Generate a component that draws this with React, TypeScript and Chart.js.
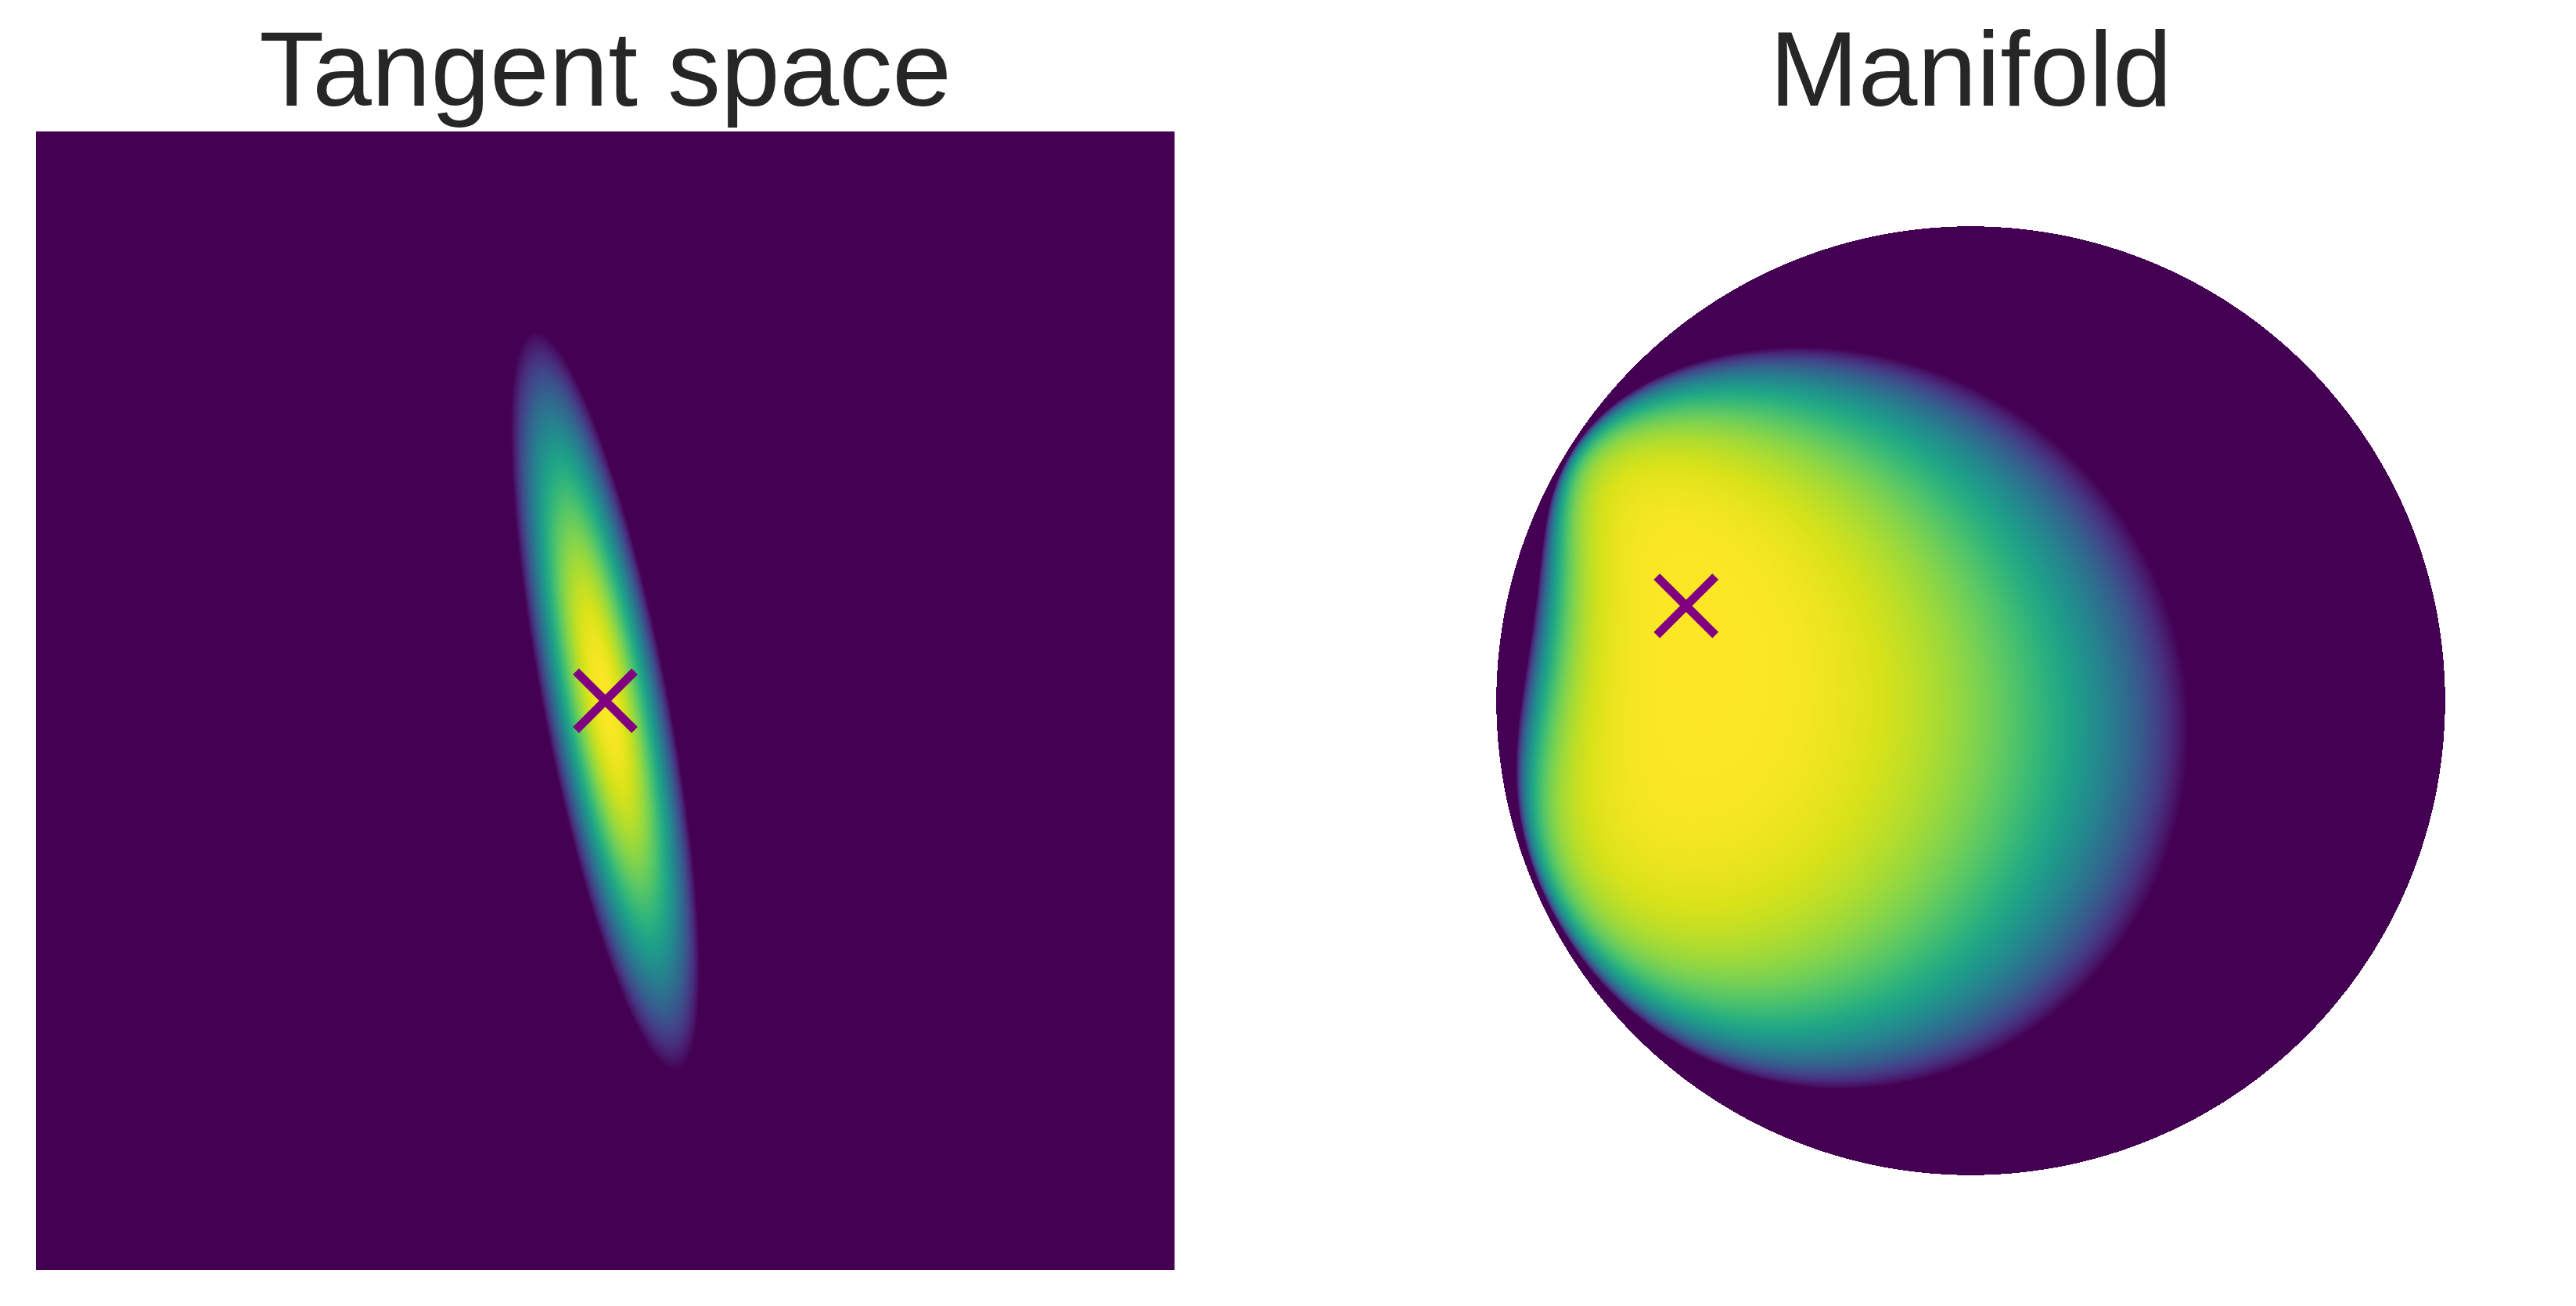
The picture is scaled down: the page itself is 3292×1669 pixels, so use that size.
import React, { useEffect, useRef } from 'react';
import { Chart, registerables } from 'chart.js';

Chart.register(...registerables);

// ---------- data ----------
const PANEL_TITLES = ['Tangent space', 'Manifold'];

// Tangent space panel (axis range, mean, visible-contour semi-axes, tilt of major axis from vertical)
const TANGENT_RANGE = [-3, 3];
const TANGENT_MEAN = [0, 0];
const TANGENT_SEMI_AXES = [1.98, 0.33];
const TANGENT_TILT_DEG = [11];
const TANGENT_GAMMA = [1.0];

// Manifold panel (Poincaré disk): axis range, mean on the disk, contour centre in log-map coords,
// contour semi-axes in log-map coords, tilt of major axis from vertical
const MANIFOLD_RANGE = [-1.2, 1.2];
const MANIFOLD_MEAN = [-0.6, 0.2];
const MANIFOLD_OFFSET = [0.08, -0.17];
const MANIFOLD_SEMI_AXES = [2.3, 1.05];
const MANIFOLD_TILT_DEG = [15];
const MANIFOLD_GAMMA = [1.5];

// ---------- style ----------
const VIRIDIS: number[][] = [
  [68, 1, 84], [72, 24, 106], [71, 45, 123], [66, 64, 134], [59, 82, 139], [51, 99, 141],
  [44, 114, 142], [38, 130, 142], [33, 145, 140], [31, 160, 136], [40, 174, 128], [63, 188, 115],
  [94, 201, 98], [132, 212, 75], [173, 220, 48], [216, 226, 25], [253, 231, 37],
];
const MARKER_COLOR = '#800080';
const TITLE_COLOR = '#262626';
const FONT = '"Liberation Sans", Arial, Helvetica, sans-serif';

function viridis(t: number): number[] {
  const c = Math.max(0, Math.min(1, t)) * (VIRIDIS.length - 1);
  const i = Math.min(VIRIDIS.length - 2, Math.floor(c));
  const f = c - i;
  const a = VIRIDIS[i], b = VIRIDIS[i + 1];
  return [a[0] + (b[0] - a[0]) * f, a[1] + (b[1] - a[1]) * f, a[2] + (b[2] - a[2]) * f];
}

function ellipseLevel(dx: number, dy: number, semi: number[], tiltDeg: number, gamma: number): number {
  const th = (tiltDeg * Math.PI) / 180;
  const u1x = -Math.sin(th), u1y = Math.cos(th); // major axis
  const u2x = Math.cos(th), u2y = Math.sin(th); // minor axis
  const p1 = (dx * u1x + dy * u1y) / semi[0];
  const p2 = (dx * u2x + dy * u2y) / semi[1];
  const q = p1 * p1 + p2 * p2;
  if (q >= 1) return 0;
  return 1 - Math.pow(q, gamma);
}

function tangentField(x: number, y: number): number {
  return ellipseLevel(x - TANGENT_MEAN[0], y - TANGENT_MEAN[1], TANGENT_SEMI_AXES, TANGENT_TILT_DEG[0], TANGENT_GAMMA[0]);
}

function manifoldField(x: number, y: number): number {
  const r2 = x * x + y * y;
  if (r2 >= 1) return -1;
  // Möbius addition (-mu) ⊕ z, then logarithmic map at mu
  const ax = -MANIFOLD_MEAN[0], ay = -MANIFOLD_MEAN[1];
  const ab = ax * x + ay * y;
  const a2 = ax * ax + ay * ay;
  const den = 1 + 2 * ab + a2 * r2;
  const wx = ((1 + 2 * ab + r2) * ax + (1 - a2) * x) / den;
  const wy = ((1 + 2 * ab + r2) * ay + (1 - a2) * y) / den;
  const wn = Math.sqrt(wx * wx + wy * wy);
  if (wn >= 0.999999) return 0;
  const s = wn < 1e-12 ? 1 : (0.5 * Math.log((1 + wn) / (1 - wn))) / wn;
  const vx = wx * s, vy = wy * s;
  return ellipseLevel(vx - MANIFOLD_OFFSET[0], vy - MANIFOLD_OFFSET[1], MANIFOLD_SEMI_AXES, MANIFOLD_TILT_DEG[0], MANIFOLD_GAMMA[0]);
}

function densityPlugin(field: (x: number, y: number) => number) {
  return {
    id: 'densityImage',
    beforeDatasetsDraw(chart: any) {
      const { ctx, chartArea, scales } = chart;
      const L = Math.round(chartArea.left), T = Math.round(chartArea.top);
      const W = Math.round(chartArea.right) - L, H = Math.round(chartArea.bottom) - T;
      const img = ctx.createImageData(W, H);
      const xs = new Float64Array(W), ys = new Float64Array(H);
      for (let i = 0; i < W; i++) xs[i] = scales.x.getValueForPixel(L + i + 0.5);
      for (let j = 0; j < H; j++) ys[j] = scales.y.getValueForPixel(T + j + 0.5);
      const d = img.data;
      for (let j = 0; j < H; j++) {
        for (let i = 0; i < W; i++) {
          const t = field(xs[i], ys[j]);
          if (t < 0) continue;
          const c = viridis(t);
          const k = (j * W + i) * 4;
          d[k] = c[0]; d[k + 1] = c[1]; d[k + 2] = c[2]; d[k + 3] = 255;
        }
      }
      ctx.putImageData(img, L, T);
    },
  };
}

function makeConfig(title: string, range: number[], mean: number[], field: (x: number, y: number) => number): any {
  return {
    type: 'scatter',
    data: {
      datasets: [
        {
          data: [{ x: mean[0], y: mean[1] }],
          pointStyle: 'crossRot',
          pointRadius: 53,
          pointHoverRadius: 53,
          pointBorderWidth: 11,
          borderWidth: 11,
          pointBorderColor: MARKER_COLOR,
          borderColor: MARKER_COLOR,
          backgroundColor: MARKER_COLOR,
          clip: false,
        },
      ],
    },
    options: {
      responsive: false,
      animation: false,
      events: [],
      layout: { autoPadding: false, padding: { left: 46, right: 46, top: 27, bottom: 46 } },
      scales: {
        x: { type: 'linear', min: range[0], max: range[1], display: false },
        y: { type: 'linear', min: range[0], max: range[1], display: false },
      },
      plugins: {
        legend: { display: false },
        tooltip: { enabled: false },
        title: {
          display: true,
          text: title,
          color: TITLE_COLOR,
          font: { family: FONT, size: 136, weight: 'normal', lineHeight: 141 / 136 },
          padding: { top: 0, bottom: 0 },
        },
      },
    },
    plugins: [densityPlugin(field)],
  };
}

export default function App() {
  const leftRef = useRef<HTMLCanvasElement>(null);
  const rightRef = useRef<HTMLCanvasElement>(null);

  useEffect(() => {
    const c1 = new Chart(leftRef.current as HTMLCanvasElement, makeConfig(PANEL_TITLES[0], TANGENT_RANGE, TANGENT_MEAN, tangentField));
    const c2 = new Chart(rightRef.current as HTMLCanvasElement, makeConfig(PANEL_TITLES[1], MANIFOLD_RANGE, MANIFOLD_MEAN, manifoldField));
    return () => {
      c1.destroy();
      c2.destroy();
    };
  }, []);

  return (
    <div style={{ position: 'absolute', left: 0, top: 0, width: 3292, height: 1669, background: '#ffffff' }}>
      <canvas ref={leftRef} width={1547} height={1669} style={{ position: 'absolute', left: 0, top: 0 }} />
      <canvas ref={rightRef} width={1547} height={1669} style={{ position: 'absolute', left: 1745, top: 0 }} />
    </div>
  );
}
